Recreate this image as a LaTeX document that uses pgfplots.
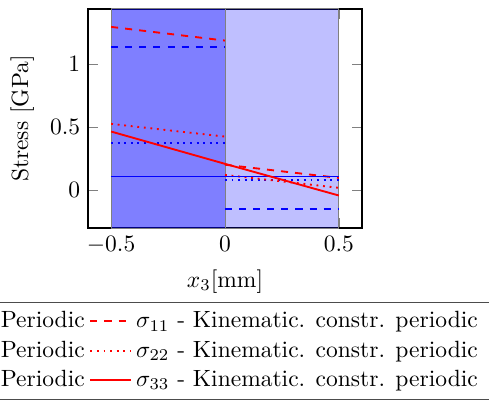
\documentclass[border=0pt]{standalone}
\usepackage{pgfplots}
\pgfplotsset{compat=1.18}
\begin{document}
\begin{tikzpicture}
\useasboundingbox (-37.6pt,-73.9pt) rectangle (170.5pt,97.1pt);
\clip (-37.6pt,-73.9pt) rectangle (170.5pt,97.1pt);
\begin{axis}[
  at={(0pt,0pt)}, anchor=south west,
  scale only axis, width=116.3pt, height=93.3pt,
  xmin=-0.6, xmax=0.6, ymin=-0.305, ymax=1.44,
  xtick={-0.5,0,0.5}, ytick={0,0.5,1},
  axis line style={thick},
  xlabel={$x_3$[mm]}, ylabel={Stress [GPa]},
  legend columns=2,
  legend style={at={(1.47,-0.335)}, anchor=north east, draw=black!70},
  unbounded coords=jump,
]
\addplot[fill=blue, fill opacity=0.5, draw=gray, forget plot] coordinates {(-0.5,-0.305) (-0.5,1.44) (0,1.44) (0,-0.305)} -- cycle;
\addplot[fill=blue, fill opacity=0.25, draw=gray, forget plot] coordinates {(0,-0.305) (0,1.44) (0.5,1.44) (0.5,-0.305)} -- cycle;
\addplot[blue, thick, dashed] coordinates {(-0.5,1.14) (0,1.14) (0,nan) (0,-0.154) (0.5,-0.154)};
\addlegendentry{$\sigma_{11}$ - Periodic}
\addplot[red, thick, dashed] coordinates {(-0.5,1.297) (0,1.188) (0,nan) (0,0.20) (0.5,0.095)};
\addlegendentry{$\sigma_{11}$ - Kinematic. constr. periodic}
\addplot[blue, thick, dotted] coordinates {(-0.5,0.371) (0,0.371) (0,nan) (0,0.08) (0.5,0.08)};
\addlegendentry{$\sigma_{22}$ - Periodic}
\addplot[red, thick, dotted] coordinates {(-0.5,0.525) (0,0.424) (0,nan) (0,0.119) (0.5,0.016)};
\addlegendentry{$\sigma_{22}$ - Kinematic. constr. periodic}
\addplot[blue, thick] coordinates {(-0.5,0.106) (0.5,0.106)};
\addlegendentry{$\sigma_{33}$ - Periodic}
\addplot[red, thick] coordinates {(-0.5,0.464) (0,0.207) (0.5,-0.045)};
\addlegendentry{$\sigma_{33}$ - Kinematic. constr. periodic}
\end{axis}
\end{tikzpicture}
\end{document}
